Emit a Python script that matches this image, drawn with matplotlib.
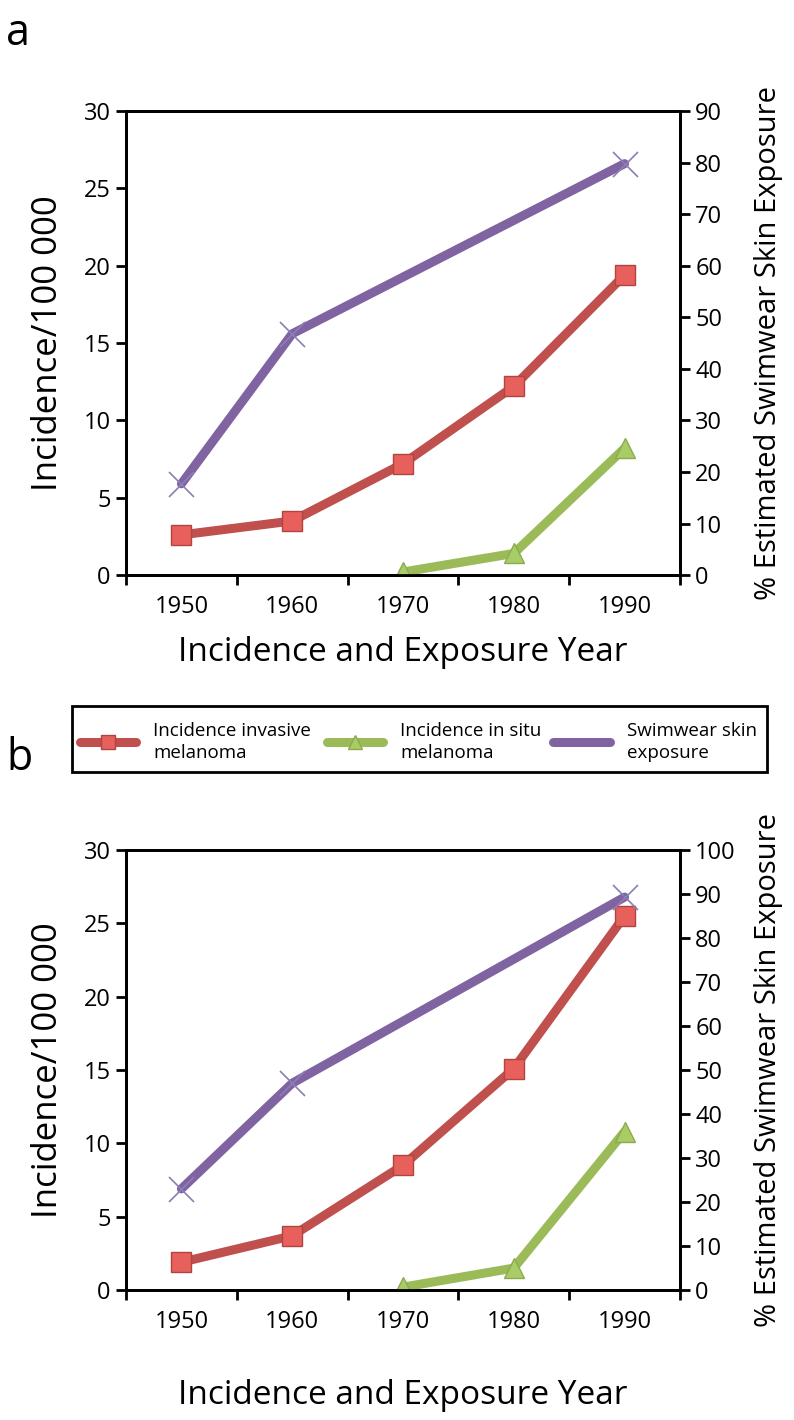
import matplotlib.pyplot as plt
from matplotlib.patches import Rectangle
import numpy as np

plt.rcParams['font.family'] = ['Open Sans', 'DejaVu Sans']

# data
years = ['1950', '1960', '1970', '1980', '1990']

a_invasive = [2.6, 3.5, 7.2, 12.2, 19.4]
a_insitu = [np.nan, np.nan, 0.2, 1.4, 8.2]
a_swim = [17.7, 46.8, np.nan, np.nan, 79.8]

b_invasive = [1.9, 3.7, 8.5, 15.1, 25.5]
b_insitu = [np.nan, np.nan, 0.2, 1.5, 10.8]
b_swim = [23.0, 47.0, np.nan, np.nan, 89.3]

labels = ['Incidence invasive\nmelanoma', 'Incidence in situ\nmelanoma',
          'Swimwear skin\nexposure']

red = '#C0504D'
green = '#9BBB59'
purple = '#8064A2'

fig = plt.figure(figsize=(7.94, 14.2), dpi=100)


def panel(rect, inv, ins, swim, rmax, rstep, xlab_y):
    ax = fig.add_axes(rect)
    x = np.arange(len(years))
    l1, = ax.plot(x, inv, color=red, lw=6.5, marker='s', ms=15,
                  mfc='#E8605C', mec='#B04440', mew=1, zorder=4,
                  solid_capstyle='round', solid_joinstyle='round')
    ins = np.array(ins)
    ok = ~np.isnan(ins)
    l2, = ax.plot(x[ok], ins[ok], color=green, lw=6.5, marker='^', ms=15,
                  mfc='#A8CC66', mec='#8DAA50', mew=1, zorder=4,
                  solid_capstyle='round', solid_joinstyle='round')
    ax.set_xlim(-0.5, 4.5)
    ax.set_ylim(0, 30)
    ax.set_yticks(np.arange(0, 31, 5))
    ax.set_xticks(x)
    ax.set_xticklabels(years)
    ax.set_xticks(np.arange(-0.5, 5, 1), minor=True)
    ax.tick_params(axis='x', which='major', length=0, pad=14, labelsize=17)
    ax.tick_params(axis='x', which='minor', length=7, width=2, direction='out')
    ax.tick_params(axis='y', length=7, width=2, direction='out', labelsize=17, pad=4)
    ax.set_ylabel('Incidence/100 000', fontsize=25, va='center')
    ax.yaxis.set_label_coords(-0.141, 0.5)
    ax.set_xlabel('Incidence and Exposure Year', fontsize=24, va='center')
    ax.xaxis.set_label_coords(0.5, xlab_y)

    ax2 = ax.twinx()
    swim = np.array(swim)
    ok = ~np.isnan(swim)
    l3, = ax2.plot(x[ok], swim[ok], color=purple, lw=6.5, zorder=3,
                   solid_capstyle='round', solid_joinstyle='round')
    ax2.plot(x[ok], swim[ok], ls='none', marker='x', ms=18,
             mec='#8A7EB5', mew=1.2, zorder=4)
    ax2.set_ylim(0, rmax)
    ax2.set_yticks(np.arange(0, rmax + 1, rstep))
    ax2.tick_params(axis='y', length=7, width=2, direction='out', labelsize=17, pad=4)
    ax2.set_ylabel('% Estimated Swimwear Skin Exposure', fontsize=21, va='center')
    ax2.yaxis.set_label_coords(1.159, 0.5)
    for a in (ax, ax2):
        for s in a.spines.values():
            s.set_linewidth(2)
    return l1, l2, l3


lines = panel([0.1587, 0.595, 0.6977, 0.3268], a_invasive, a_insitu, a_swim, 90, 10, -0.166)
panel([0.1587, 0.0915, 0.6977, 0.3099], b_invasive, b_insitu, b_swim, 100, 10, -0.239)

# legend box between the panels, one entry at a time
fig.patches.append(Rectangle((0.0907, 0.4563), 0.875, 0.0465, transform=fig.transFigure,
                             fill=False, edgecolor='black', lw=2))
for line, lab, xpos in zip(lines, labels, [0.1008, 0.412, 0.697]):
    leg = fig.legend([line], [lab], loc='center left', bbox_to_anchor=(xpos, 0.4775),
                     fontsize=13.5, frameon=False, handlelength=3.0,
                     handletextpad=0.9, borderpad=0, borderaxespad=0, markerscale=0.7)
    leg.get_texts()[0].set_linespacing(1.35)

fig.text(0.008, 0.968, 'a', fontsize=31)
fig.text(0.008, 0.458, 'b', fontsize=31)

fig.savefig('out.png', dpi=100)
